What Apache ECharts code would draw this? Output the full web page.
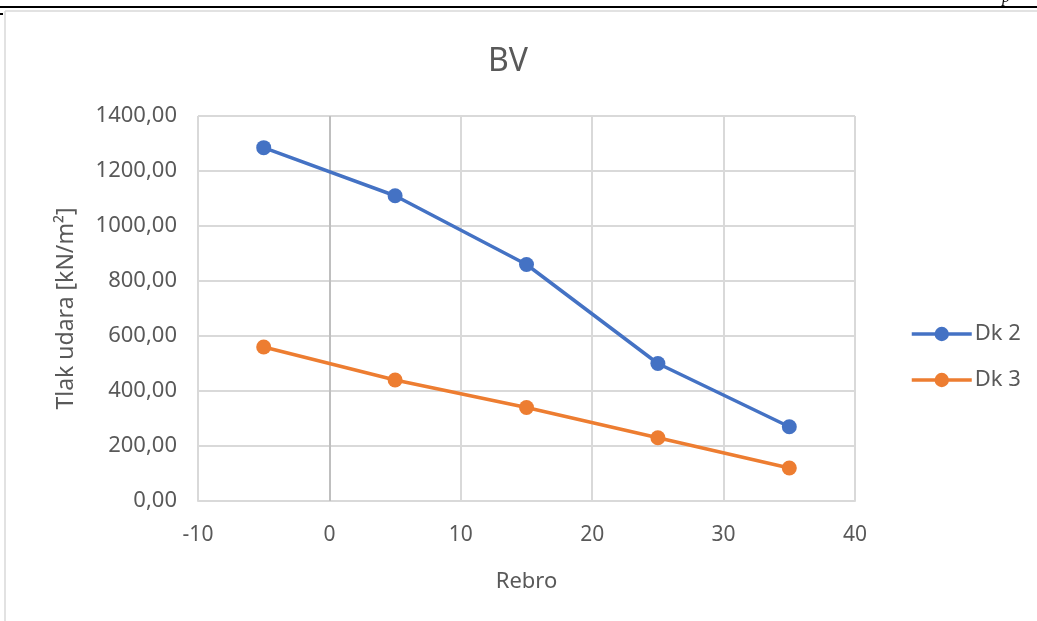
<!DOCTYPE html>
<html>
<head>
<meta charset="utf-8">
<script src="https://cdn.jsdelivr.net/npm/echarts@6/dist/echarts.min.js"></script>
<style>
html,body{margin:0;padding:0;background:#fff;}
#c{width:1037px;height:621px;}
</style>
</head>
<body>
<div id="c"></div>
<script>
const xValues = [-5, 5, 15, 25, 35];
const dk2 = [1285, 1110, 860, 500, 270];
const dk3 = [560, 440, 340, 230, 120];
const seriesNames = ['Dk 2', 'Dk 3'];
const colors = ['#4472C4', '#ED7D31'];

const FONT = 'Noto Sans';
const TXT = '#595959';

function pairs(ys){ return xValues.map((x,i)=>[x, ys[i]]); }

const chart = echarts.init(document.getElementById('c'), null, {renderer:'canvas'});
chart.setOption({
  animation:false,
  backgroundColor:'#fff',
  textStyle:{fontFamily:FONT},
  title:{
    text:'BV', left:503, top:41, textAlign:'center',
    textStyle:{fontFamily:FONT, fontSize:32, fontWeight:'normal', color:TXT}
  },
  grid:{left:198, right:182, top:116, bottom:120},
  legend:{
    orient:'vertical', left:905, top:318, itemGap:24,
    itemWidth:60, itemHeight:18,
    lineStyle:{width:3.5},
    textStyle:{fontFamily:FONT, fontSize:22, color:TXT, padding:[0,0,0,-2]},
    data:seriesNames
  },
  xAxis:{
    type:'value', min:-10, max:40, interval:10,
    name:'Rebro', nameLocation:'middle', nameGap:70,
    nameTextStyle:{fontFamily:FONT, fontSize:22, color:TXT},
    axisLine:{show:true, onZero:false, lineStyle:{color:'#d9d9d9', width:2}},
    axisTick:{show:false},
    axisLabel:{fontFamily:FONT, fontSize:21, color:TXT, margin:24},
    splitLine:{show:true, lineStyle:{color:'#d9d9d9', width:2}}
  },
  yAxis:{
    type:'value', min:0, max:1400, interval:200,
    name:'Tlak udara [kN/m²]', nameLocation:'middle', nameGap:120,
    nameTextStyle:{fontFamily:FONT, fontSize:23, color:TXT},
    axisLine:{show:false},
    axisTick:{show:false},
    axisLabel:{fontFamily:FONT, fontSize:22, color:TXT, margin:21,
      formatter:v=>v.toFixed(2).replace('.',',')},
    splitLine:{show:true, lineStyle:{color:'#d9d9d9', width:2}}
  },
  series:[
    {
      name:seriesNames[0], type:'line', data:pairs(dk2),
      symbol:'circle', symbolSize:15, z:3,
      lineStyle:{color:colors[0], width:3.5},
      itemStyle:{color:colors[0]},
      markLine:{
        silent:true, symbol:'none', label:{show:false}, z:1,
        lineStyle:{color:'#bfbfbf', width:2, type:'solid'},
        data:[{xAxis:0}]
      }
    },
    {
      name:seriesNames[1], type:'line', data:pairs(dk3),
      symbol:'circle', symbolSize:15, z:3,
      lineStyle:{color:colors[1], width:3.5},
      itemStyle:{color:colors[1]}
    }
  ],
  graphic:[
    {type:'line', shape:{x1:0,y1:7,x2:1037,y2:7}, style:{stroke:'#000', lineWidth:2}},
    {type:'line', shape:{x1:5,y1:11,x2:1037,y2:11}, style:{stroke:'#d9d9d9', lineWidth:1.5}},
    {type:'line', shape:{x1:5,y1:11,x2:5,y2:621}, style:{stroke:'#d9d9d9', lineWidth:1.5}},
    {type:'line', shape:{x1:0,y1:14,x2:3,y2:14}, style:{stroke:'#000', lineWidth:2}},
    {type:'text', left:1002, top:-10, style:{text:'p', fontFamily:'Liberation Serif', fontStyle:'italic', fontSize:16, fill:'#000'}}
  ]
});
</script>
</body>
</html>
